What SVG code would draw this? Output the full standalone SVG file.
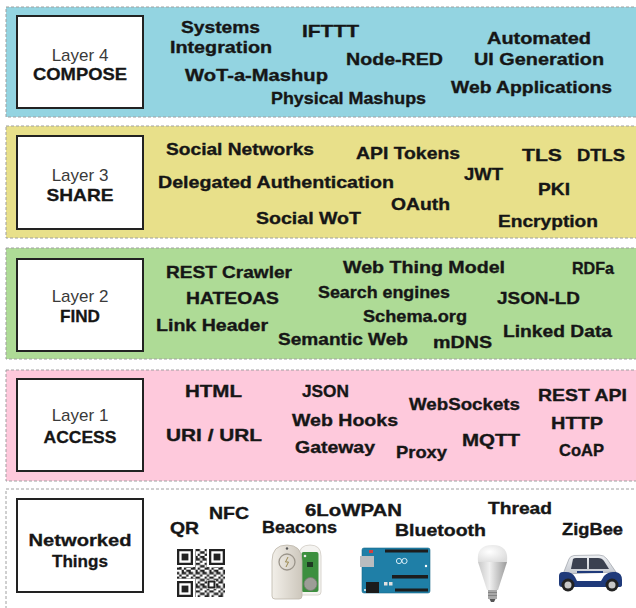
<svg xmlns="http://www.w3.org/2000/svg" width="636" height="608" viewBox="0 0 636 608">
<style>
.band{stroke:#a0a0a0;stroke-width:1;stroke-dasharray:3 2}
.box{fill:#fff;stroke:#222;stroke-width:2}
.t{font-family:"Liberation Sans",Arial,sans-serif;font-weight:bold;font-size:16.5px;fill:#161616;stroke:#161616;stroke-width:0.35}
.ln{font-family:"Liberation Sans",Arial,sans-serif;font-size:17px;fill:#3a3a3a;text-anchor:middle}
.lb{font-family:"Liberation Sans",Arial,sans-serif;font-weight:bold;font-size:17px;fill:#161616;stroke:#161616;stroke-width:0.3;text-anchor:middle}
</style>
<defs>
<pattern id="qrp" patternUnits="userSpaceOnUse" x="177" y="549" width="13.8" height="13.8">
<path fill="#222" d="M0 0h2.3v2.3H0zM4.6 0h4.6v2.3h-4.6zM2.3 2.3h2.3v2.3h-2.3zM9.2 2.3h4.6v2.3h-4.6zM0 4.6h4.6v2.3H0zM6.9 4.6h2.3v2.3h-2.3zM4.6 6.9h2.3v2.3h-2.3zM9.2 6.9h4.6v2.3h-4.6zM0 9.2h2.3v2.3H0zM4.6 9.2h4.6v2.3h-4.6zM11.5 9.2h2.3v2.3h-2.3zM2.3 11.5h2.3v2.3h-2.3zM9.2 11.5h2.3v2.3h-2.3z"/>
</pattern>
<linearGradient id="fob" x1="0" y1="0" x2="1" y2="0">
<stop offset="0" stop-color="#f2efe9"/><stop offset="1" stop-color="#cdc7bc"/>
</linearGradient>
<linearGradient id="bulbBody" x1="0" y1="0" x2="1" y2="0">
<stop offset="0" stop-color="#c8c8c8"/><stop offset="0.4" stop-color="#f0f0f0"/><stop offset="1" stop-color="#9a9a9a"/>
</linearGradient>
<radialGradient id="dome" cx="0.4" cy="0.4" r="0.7">
<stop offset="0" stop-color="#ffffff"/><stop offset="1" stop-color="#dcdcdc"/>
</radialGradient>
<linearGradient id="carTop" x1="0" y1="0" x2="0" y2="1">
<stop offset="0" stop-color="#eef0f3"/><stop offset="1" stop-color="#c4c8cf"/>
</linearGradient>
</defs>

<g id="layer4">
<rect class="band" x="6" y="7" width="640" height="110" fill="#93d4e1"/>
<rect class="box" x="17" y="16" width="126" height="92"/>
<text class="ln" x="80" y="61">Layer 4</text>
<text class="lb" x="80" y="80" textLength="94" lengthAdjust="spacingAndGlyphs">COMPOSE</text>
<text class="t" x="181" y="33" textLength="79" lengthAdjust="spacingAndGlyphs">Systems</text>
<text class="t" x="170" y="53" textLength="102" lengthAdjust="spacingAndGlyphs">Integration</text>
<text class="t" x="302" y="37" textLength="57" lengthAdjust="spacingAndGlyphs">IFTTT</text>
<text class="t" x="346" y="65" textLength="97" lengthAdjust="spacingAndGlyphs">Node-RED</text>
<text class="t" x="487" y="44" textLength="104" lengthAdjust="spacingAndGlyphs">Automated</text>
<text class="t" x="474" y="65" textLength="130" lengthAdjust="spacingAndGlyphs">UI Generation</text>
<text class="t" x="185" y="81" textLength="143" lengthAdjust="spacingAndGlyphs">WoT-a-Mashup</text>
<text class="t" x="451" y="93" textLength="161" lengthAdjust="spacingAndGlyphs">Web Applications</text>
<text class="t" x="271" y="104" textLength="155" lengthAdjust="spacingAndGlyphs">Physical Mashups</text>
</g>

<g id="layer3">
<rect class="band" x="6" y="126" width="640" height="112" fill="#e8e08a"/>
<rect class="box" x="17" y="136" width="126" height="93"/>
<text class="ln" x="80" y="181">Layer 3</text>
<text class="lb" x="80" y="201" textLength="67" lengthAdjust="spacingAndGlyphs">SHARE</text>
<text class="t" x="166" y="155" textLength="148" lengthAdjust="spacingAndGlyphs">Social Networks</text>
<text class="t" x="356" y="159" textLength="104" lengthAdjust="spacingAndGlyphs">API Tokens</text>
<text class="t" x="522" y="161" textLength="40" lengthAdjust="spacingAndGlyphs">TLS</text>
<text class="t" x="577" y="161" textLength="48" lengthAdjust="spacingAndGlyphs">DTLS</text>
<text class="t" x="158" y="188" textLength="236" lengthAdjust="spacingAndGlyphs">Delegated Authentication</text>
<text class="t" x="464" y="180" textLength="39" lengthAdjust="spacingAndGlyphs">JWT</text>
<text class="t" x="538" y="195" textLength="32" lengthAdjust="spacingAndGlyphs">PKI</text>
<text class="t" x="391" y="210" textLength="59" lengthAdjust="spacingAndGlyphs">OAuth</text>
<text class="t" x="256" y="224" textLength="105" lengthAdjust="spacingAndGlyphs">Social WoT</text>
<text class="t" x="498" y="227" textLength="100" lengthAdjust="spacingAndGlyphs">Encryption</text>
</g>

<g id="layer2">
<rect class="band" x="6" y="248" width="640" height="111" fill="#aedb96"/>
<rect class="box" x="17" y="259" width="126" height="92"/>
<text class="ln" x="80" y="302">Layer 2</text>
<text class="lb" x="80" y="322" textLength="40" lengthAdjust="spacingAndGlyphs">FIND</text>
<text class="t" x="166" y="278" textLength="126" lengthAdjust="spacingAndGlyphs">REST Crawler</text>
<text class="t" x="343" y="273" textLength="162" lengthAdjust="spacingAndGlyphs">Web Thing Model</text>
<text class="t" x="572" y="274" textLength="42" lengthAdjust="spacingAndGlyphs">RDFa</text>
<text class="t" x="186" y="304" textLength="93" lengthAdjust="spacingAndGlyphs">HATEOAS</text>
<text class="t" x="318" y="298" textLength="132" lengthAdjust="spacingAndGlyphs">Search engines</text>
<text class="t" x="497" y="304" textLength="83" lengthAdjust="spacingAndGlyphs">JSON-LD</text>
<text class="t" x="363" y="322" textLength="104" lengthAdjust="spacingAndGlyphs">Schema.org</text>
<text class="t" x="156" y="331" textLength="112" lengthAdjust="spacingAndGlyphs">Link Header</text>
<text class="t" x="278" y="345" textLength="130" lengthAdjust="spacingAndGlyphs">Semantic Web</text>
<text class="t" x="433" y="348" textLength="59" lengthAdjust="spacingAndGlyphs">mDNS</text>
<text class="t" x="503" y="337" textLength="109" lengthAdjust="spacingAndGlyphs">Linked Data</text>
</g>

<g id="layer1">
<rect class="band" x="6" y="370" width="640" height="111" fill="#fec9dc"/>
<rect class="box" x="17" y="379" width="126" height="92"/>
<text class="ln" x="80" y="421">Layer 1</text>
<text class="lb" x="80" y="443" textLength="73" lengthAdjust="spacingAndGlyphs">ACCESS</text>
<text class="t" x="185" y="397" textLength="57" lengthAdjust="spacingAndGlyphs">HTML</text>
<text class="t" x="302" y="397" textLength="47" lengthAdjust="spacingAndGlyphs">JSON</text>
<text class="t" x="409" y="410" textLength="111" lengthAdjust="spacingAndGlyphs">WebSockets</text>
<text class="t" x="538" y="401" textLength="89" lengthAdjust="spacingAndGlyphs">REST API</text>
<text class="t" x="292" y="426" textLength="106" lengthAdjust="spacingAndGlyphs">Web Hooks</text>
<text class="t" x="551" y="429" textLength="52" lengthAdjust="spacingAndGlyphs">HTTP</text>
<text class="t" x="166" y="441" textLength="96" lengthAdjust="spacingAndGlyphs">URI / URL</text>
<text class="t" x="462" y="446" textLength="58" lengthAdjust="spacingAndGlyphs">MQTT</text>
<text class="t" x="295" y="453" textLength="80" lengthAdjust="spacingAndGlyphs">Gateway</text>
<text class="t" x="396" y="458" textLength="51" lengthAdjust="spacingAndGlyphs">Proxy</text>
<text class="t" x="559" y="456" textLength="45" lengthAdjust="spacingAndGlyphs">CoAP</text>
</g>

<g id="things">
<rect class="band" x="6" y="489" width="640" height="130" fill="#ffffff"/>
<rect class="box" x="17" y="499" width="126" height="93"/>
<text class="lb" x="80" y="546" textLength="103" lengthAdjust="spacingAndGlyphs">Networked</text>
<text class="lb" x="80" y="567" textLength="56" lengthAdjust="spacingAndGlyphs">Things</text>
<text class="t" x="209" y="519" textLength="40" lengthAdjust="spacingAndGlyphs">NFC</text>
<text class="t" x="170" y="534" textLength="29" lengthAdjust="spacingAndGlyphs">QR</text>
<text class="t" x="305" y="516" textLength="97" lengthAdjust="spacingAndGlyphs">6LoWPAN</text>
<text class="t" x="262" y="533" textLength="75" lengthAdjust="spacingAndGlyphs">Beacons</text>
<text class="t" x="488" y="514" textLength="64" lengthAdjust="spacingAndGlyphs">Thread</text>
<text class="t" x="395" y="536" textLength="91" lengthAdjust="spacingAndGlyphs">Bluetooth</text>
<text class="t" x="562" y="535" textLength="61" lengthAdjust="spacingAndGlyphs">ZigBee</text>

<g id="qr">
<rect x="177" y="549" width="48" height="48" fill="url(#qrp)"/>
<rect x="176" y="548" width="19" height="19" fill="#fff"/>
<rect x="207" y="548" width="19" height="19" fill="#fff"/>
<rect x="176" y="579" width="19" height="19" fill="#fff"/>
<g fill="#222">
<path fill-rule="evenodd" d="M177 549h16v16h-16zM179.3 551.3v11.4h11.4v-11.4z"/>
<rect x="181.6" y="553.6" width="6.8" height="6.8"/>
<path fill-rule="evenodd" d="M209 549h16v16h-16zM211.3 551.3v11.4h11.4v-11.4z"/>
<rect x="213.6" y="553.6" width="6.8" height="6.8"/>
<path fill-rule="evenodd" d="M177 581h16v16h-16zM179.3 583.3v11.4h11.4v-11.4z"/>
<rect x="181.6" y="585.6" width="6.8" height="6.8"/>
</g>
<rect x="207" y="580" width="9" height="9" fill="#fff"/>
<path fill="#222" fill-rule="evenodd" d="M207.5 580.5h8v8h-8zM209.5 582.5v4h4v-4z"/>
</g>

<g id="beacon">
<path d="M299 556q0-11 11-11t11 11v36q0 3-3 3h-16q-3 0-3-3z" fill="#f4f3f0" stroke="#d0ccc4" stroke-width="0.8"/>
<rect x="301.5" y="552" width="17" height="40" rx="2" fill="#3c8f3e"/>
<circle cx="305" cy="556" r="1.3" fill="#e9e9e9"/>
<rect x="307" y="562" width="6" height="5" fill="#1e3a22"/>
<circle cx="310.5" cy="584" r="6.5" fill="#9d9d97" stroke="#7a7a74" stroke-width="0.8"/>
<path d="M272 561q0-16 15-16t15 16v35q0 3-3 3h-24q-3 0-3-3z" fill="url(#fob)" stroke="#bdb6aa" stroke-width="0.8"/>
<circle cx="287" cy="562" r="8" fill="none" stroke="#9b958b" stroke-width="1.3"/>
<path d="M288 557l-2.5 5h3l-2.5 5" fill="none" stroke="#9b8a52" stroke-width="1"/>
<circle cx="287" cy="548.5" r="1.2" fill="#555"/>
</g>

<g id="arduino">
<rect x="362" y="548" width="68" height="45" rx="2" fill="#1f7fa7" stroke="#17688a" stroke-width="0.6"/>
<rect x="360" y="556" width="14" height="11" fill="#b9bcbf"/>
<rect x="366" y="582" width="13" height="11" fill="#1b1b1b"/>
<rect x="369" y="550" width="4" height="3" fill="#d04040"/>
<rect x="385" y="549.5" width="43" height="3" fill="#1d1d1d"/>
<rect x="392" y="575" width="36" height="3.5" fill="#1d1d1d"/>
<rect x="395" y="588.5" width="33" height="3" fill="#1d1d1d"/>
<circle cx="399" cy="561" r="2.6" fill="none" stroke="#d8eef7" stroke-width="1"/>
<circle cx="404.5" cy="561" r="2.6" fill="none" stroke="#d8eef7" stroke-width="1"/>
<rect x="384" y="582" width="3.5" height="3.5" fill="#e0e0e0"/>
<rect x="389" y="582" width="3.5" height="3.5" fill="#e0e0e0"/>
<circle cx="426" cy="566" r="1.2" fill="#fff"/>
<circle cx="365" cy="590" r="1" fill="#fff"/>
</g>

<g id="bulb">
<path d="M478 562q-2-17 14.5-17t14.5 17z" fill="url(#dome)"/>
<path d="M478 562h29l-9 28h-11z" fill="url(#bulbBody)"/>
<rect x="488" y="590" width="9" height="9" fill="#a8a8a8"/>
<path d="M488 592.5h9M488 595.5h9" stroke="#7a7a7a" stroke-width="0.8"/>
<path d="M489.5 599h6l-1.5 3h-3z" fill="#555"/>
</g>

<g id="car">
<path d="M563 574l6-15q1-3 5-3.5l25-0.5q5 0 8 4l9 13z" fill="url(#carTop)" stroke="#8d929a" stroke-width="0.6"/>
<path d="M573 559q1-1 3-1h11v11h-16z" fill="#3b4150"/>
<path d="M589 558h9q4 0 6 3l5 8h-20z" fill="#3b4150"/>
<path d="M559 576q0-4 4-4h3q6 0 9 5l2 4h24l3-5q4-4 9-4h3q6 1 6 8v5q0 2-3 2h-57q-3 0-3-3z" fill="#1f3a7a"/>
<path d="M577 572h26" stroke="#1f3a7a" stroke-width="2"/>
<circle cx="568" cy="585" r="6.5" fill="#222"/>
<circle cx="568" cy="585" r="3.5" fill="#c7c7c7"/>
<circle cx="612" cy="585" r="6.5" fill="#222"/>
<circle cx="612" cy="585" r="3.5" fill="#c7c7c7"/>
</g>
</g>
</svg>
